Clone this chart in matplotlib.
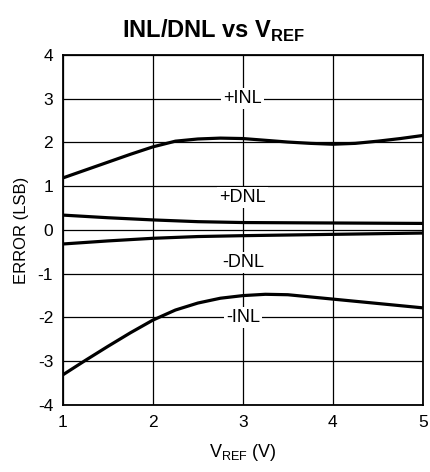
import matplotlib
matplotlib.use("Agg")
import matplotlib.pyplot as plt

plt.rcParams['font.family'] = ['Liberation Sans', 'DejaVu Sans']
plt.rcParams['mathtext.fontset'] = 'custom'
plt.rcParams['mathtext.rm'] = 'Liberation Sans'
plt.rcParams['mathtext.bf'] = 'Liberation Sans:bold'
plt.rcParams['axes.unicode_minus'] = False

# V_REF (V)
vref = [1.0, 1.25, 1.5, 1.75, 2.0, 2.25, 2.5, 2.75, 3.0,
        3.25, 3.5, 3.75, 4.0, 4.25, 4.5, 4.75, 5.0]
pos_inl = [1.19, 1.37, 1.55, 1.73, 1.90, 2.03, 2.08, 2.10, 2.09,
           2.05, 2.01, 1.98, 1.96, 1.98, 2.03, 2.09, 2.16]
neg_inl = [-3.31, -2.98, -2.66, -2.35, -2.06, -1.83, -1.67, -1.56, -1.50,
           -1.47, -1.48, -1.53, -1.58, -1.63, -1.68, -1.73, -1.78]

vref_dnl = [1.0, 1.5, 2.0, 2.5, 3.0, 3.5, 4.0, 4.5, 5.0]
pos_dnl = [0.34, 0.28, 0.23, 0.19, 0.17, 0.165, 0.16, 0.155, 0.15]
neg_dnl = [-0.32, -0.25, -0.19, -0.15, -0.13, -0.115, -0.10, -0.085, -0.07]

labels = ['+INL', '+DNL', '-DNL', '-INL']
label_y = [3.0, 0.75, -0.75, -2.0]

fig = plt.figure(figsize=(4.31, 4.72), dpi=100)
ax = fig.add_axes([0.146, 0.142, 0.835, 0.7415])

for xs, ys in [(vref, pos_inl), (vref_dnl, pos_dnl), (vref_dnl, neg_dnl), (vref, neg_inl)]:
    ax.plot(xs, ys, color='black', lw=2.3, zorder=3, solid_capstyle='butt')

for lab, y in zip(labels, label_y):
    ax.text(3.0, y, lab, ha='center', va='center', fontsize=13, zorder=4,
            bbox=dict(facecolor='white', edgecolor='none', pad=1.5))

ax.set_xlim(1, 5)
ax.set_ylim(-4, 4)
ax.set_xticks([1, 2, 3, 4, 5])
ax.set_yticks(range(-4, 5))
ax.grid(True, color='black', lw=0.9)
ax.tick_params(length=0, labelsize=12.5, pad=7)
for s in ax.spines.values():
    s.set_linewidth(1.3)

ax.set_xlabel(r'V$_{\mathrm{REF}}$ (V)', fontsize=13, labelpad=9)
ax.set_ylabel('ERROR (LSB)', fontsize=12, labelpad=6)
fig.text(0.495, 0.935, r'INL/DNL vs V$_{\mathbf{REF}}$', ha='center', va='center',
         fontsize=17, fontweight='bold')

fig.savefig('out.png', dpi=100)
